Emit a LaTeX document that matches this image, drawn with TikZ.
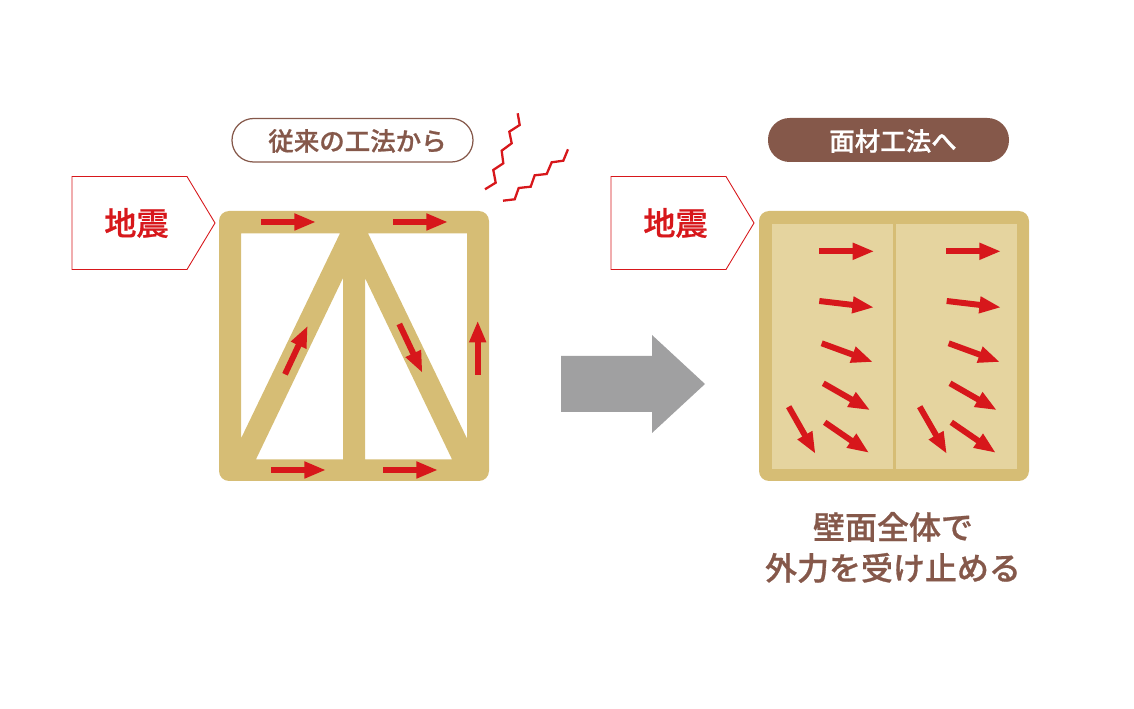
\documentclass[tikz,border=0pt]{standalone}
\usepackage{xcolor}
\usepackage{fontspec}
\setmainfont{Noto Sans CJK JP Medium}[AutoFakeBold=0.8]
\usetikzlibrary{arrows.meta}
\definecolor{woodcol}{HTML}{D6BD75}
\definecolor{panelcol}{HTML}{E5D49F}
\definecolor{forcecol}{HTML}{D7171B}
\definecolor{labelcol}{HTML}{85584A}
\definecolor{shiftcol}{HTML}{A0A0A1}
\tikzset{
	force/.style={draw=forcecol,line width=3.4pt,shorten >=-0.6pt,-{Triangle[length=12.3pt,width=8.9pt,fill=forcecol]}},
	shake/.style={draw=forcecol,line width=1.3pt,line join=miter},
	quakebox/.style={draw=forcecol,line width=0.5pt,fill=white},
	quaketext/.style={text=forcecol,font=\fontsize{18.3}{20}\selectfont\bfseries},
	titletext/.style={font=\fontsize{14.5}{17}\selectfont\bfseries},
	resulttext/.style={text=labelcol,font=\fontsize{18.2}{23.3}\selectfont\bfseries,align=center}
}
\begin{document}
\begin{tikzpicture}[x=0.02cm,y=-0.02cm]
	\useasboundingbox (0,0) rectangle (1134,709);
	% before
	\draw[labelcol,line width=0.7pt,rounded corners=12.3pt] (232,118.5) rectangle (473,162);
	\node[titletext,text=labelcol] (oldtitle) at (357.5,141) {従来の工法から};
	\draw[quakebox] (72,176.5) -- (187,176.5) -- (215,223) -- (187,269.5) -- (72,269.5) -- cycle;
	\node[quaketext] (oldquake) at (136.5,223) {地震};
	\draw[shake] (517.7,113.3) -- (519.7,125) -- (509.3,131.7) -- (511.7,143.3) -- (501.7,150.7) -- (503.3,163.3) -- (493.3,170) -- (495.7,182.7) -- (485,189.3);
	\draw[shake] (568,149.3) -- (563.3,160.7) -- (551.7,162.3) -- (546.7,174) -- (534.7,175.3) -- (530.7,186.7) -- (518.7,188) -- (514.7,199.3) -- (503,200.7);
	\fill[woodcol,even odd rule,rounded corners=5.7pt] (219,211) rectangle (489,481)
		[sharp corners] (241,233.3) -- (340,233.3) -- (241,438.5) -- cycle
		(343,278) -- (343,459.3) -- (256,459.3) -- cycle
		(365,278) -- (365,459.3) -- (452,459.3) -- cycle
		(368,233.3) -- (467,233.3) -- (467,438.5) -- cycle;
	\draw[force] (261,222) -- (315,222);
	\draw[force] (393,222) -- (447,222);
	\draw[force] (271,470) -- (325,470);
	\draw[force] (383,470) -- (437,470);
	\draw[force] (285,374.3) -- (307.3,326.7);
	\draw[force] (399.3,324) -- (422,372);
	\draw[force] (477.7,374.7) -- (477.7,321.7);
	% shift
	\fill[shiftcol] (561,356) -- (652,356) -- (652,335) -- (705,384) -- (652,433) -- (652,412) -- (561,412) -- cycle;
	% after
	\fill[labelcol,rounded corners=12.3pt] (768,118) rectangle (1009,162);
	\node[titletext,text=white] (newtitle) at (893,141) {面材工法へ};
	\draw[quakebox] (611,176.5) -- (726,176.5) -- (754,223) -- (726,269.5) -- (611,269.5) -- cycle;
	\node[quaketext] (newquake) at (675.5,223) {地震};
	\fill[woodcol,rounded corners=5.7pt] (759,211) rectangle (1029,481);
	\fill[panelcol] (772,224) rectangle (1017,469);
	\fill[woodcol] (893,224) rectangle (896,469);
	\draw[force] (819.3,251.3) -- (873.3,251.3);
	\draw[force] (946.3,251.3) -- (1000,251.3);
	\draw[force] (819.3,301) -- (873,307.3);
	\draw[force] (946.7,301) -- (1000,307.3);
	\draw[force] (821.7,343.3) -- (872,361.7);
	\draw[force] (948.7,343.3) -- (999,361.7);
	\draw[force] (823.3,383.3) -- (869.3,409.7);
	\draw[force] (950,383.3) -- (996,409.7);
	\draw[force] (824.7,422.3) -- (868.3,452.3);
	\draw[force] (951.3,422.3) -- (995,452.3);
	\draw[force] (788.7,406.7) -- (815,453);
	\draw[force] (919.7,406.7) -- (946.3,453);
	\node[resulttext] (result) at (893,547.5) {壁面全体で\\外力を受け止める};
\end{tikzpicture}
\end{document}
